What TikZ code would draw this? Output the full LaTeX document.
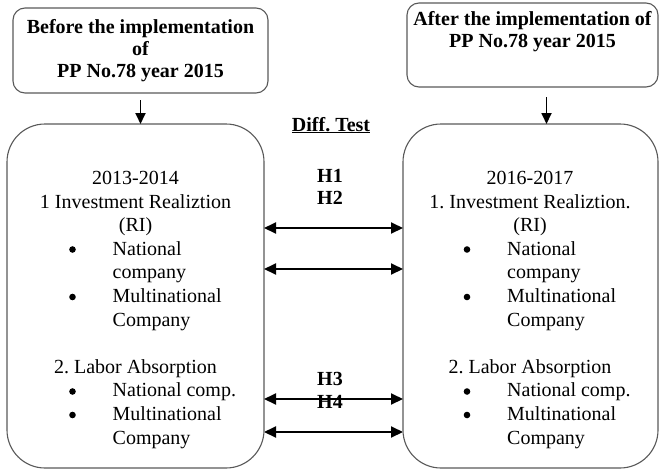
\documentclass[tikz,border=0pt]{standalone}
\usepackage{fontspec}
\setmainfont{Liberation Serif}
\usetikzlibrary{arrows.meta}
\frenchspacing

\begin{document}
\begin{tikzpicture}[x=1pt,y=-1pt,
    box/.style={draw=black!65, line width=1.1pt, rounded corners=12pt, inner sep=0pt, outer sep=0pt},
    bigbox/.style={box, rounded corners=38pt},
    txt/.style={font=\fontsize{20}{24}\selectfont, inner sep=0pt, anchor=base},
    dot/.style={circle, fill=black, inner sep=0pt, minimum size=6.6pt},
    head/.style={font=\fontsize{20}{22}\selectfont\bfseries, inner sep=0pt, align=center},
    dbl/.style={{Triangle[length=12pt,width=11pt]}-{Triangle[length=12pt,width=11pt]}, line width=2pt},
    down/.style={-{Triangle[length=11pt,width=10pt]}, line width=1.8pt}]

    % Rahmen des Bildes
    \useasboundingbox (0,0) rectangle (660,471);

    % Kopfkaesten
    \node[box, minimum width=255pt, minimum height=85pt] (hl) at (140.5,50.5) {};
    \node[box, minimum width=251pt, minimum height=84pt] (hr) at (532.5,45) {};
    \node[head] at (hl.center) {Before the implementation\\of\\PP No.78 year 2015};
    \node[head] at (532.5,32) {After the implementation of\\PP No.78 year 2015};

    % grosse Kaesten
    \node[bigbox, minimum width=257pt, minimum height=344pt] (bl) at (135.5,296) {};
    \node[bigbox, minimum width=255pt, minimum height=344pt] (br) at (530.5,296) {};

    % Pfeile nach unten
    \draw[down] ([yshift=-7pt]hl.south) -- (hl.south |- bl.north);
    \draw[down] ([xshift=14pt,yshift=-10pt]hr.south) -- ([xshift=14pt]hr.south |- br.north);

    % Inhalt der beiden Kaesten
    \foreach \cx/\yr/\ri [count=\i] in {135.5/2013-2014/1 Investment Realiztion,
                                        530/2016-2017/1. Investment Realiztion.} {
        \node[txt] (yr\i) at (\cx,184.5) {\yr};
        \node[txt] (ri\i) at (\cx,208.1) {\ri};
        \node[txt] at (\cx,231.7) {(RI)};
        \node[dot] at (\cx-63,249.5) {};
        \node[txt, anchor=base west] at (\cx-23,255.3) {National};
        \node[txt, anchor=base west] at (\cx-23,278.9) {company};
        \node[dot] at (\cx-63,297) {};
        \node[txt, anchor=base west] at (\cx-23,302.5) {Multinational};
        \node[txt, anchor=base west] at (\cx-23,326.1) {Company};
        \node[txt] (la\i) at (\cx,373.3) {2. Labor Absorption};
        \node[dot] at (\cx-63,391.5) {};
        \node[txt, anchor=base west] at (\cx-23,396.9) {National comp.};
        \node[dot] at (\cx-63,415) {};
        \node[txt, anchor=base west] at (\cx-23,420.5) {Multinational};
        \node[txt, anchor=base west] at (\cx-23,444.1) {Company};
    }

    % Test in der Mitte
    \node[txt, font=\fontsize{20}{24}\selectfont\bfseries] (dt) at (331,131) {\underline{Diff. Test}};
    \node[txt, font=\fontsize{20}{24}\selectfont\bfseries] (h1) at (330,182) {H1};
    \node[txt, font=\fontsize{20}{24}\selectfont\bfseries] (h2) at (330,204) {H2};
    \node[txt, font=\fontsize{20}{24}\selectfont\bfseries] (h3) at (330,385) {H3};
    \node[txt, font=\fontsize{20}{24}\selectfont\bfseries] (h4) at (330,408) {H4};

    % Doppelpfeile
    \draw[dbl] (bl.east |- 0,228) -- (br.west |- 0,228);
    \draw[dbl] (bl.east |- 0,269) -- (br.west |- 0,269);
    \draw[dbl] (bl.east |- 0,399) -- (br.west |- 0,399);
    \draw[dbl] (bl.east |- 0,432) -- (br.west |- 0,432);

\end{tikzpicture}
\end{document}
